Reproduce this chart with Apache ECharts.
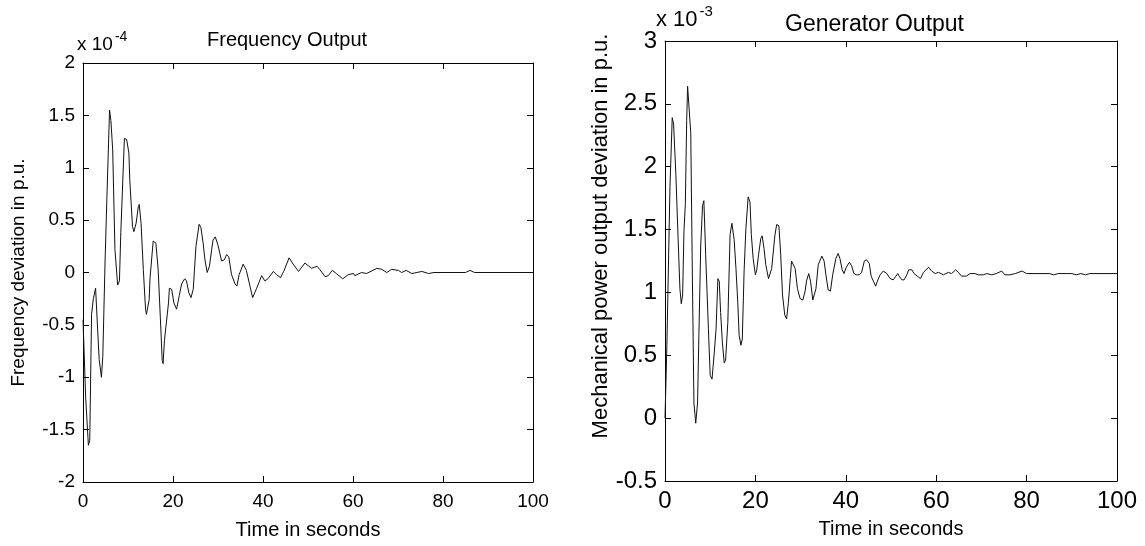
<!DOCTYPE html>
<html>
<head>
<meta charset="utf-8">
<script src="https://cdn.jsdelivr.net/npm/echarts@6/dist/echarts.min.js"></script>
<style>
  html, body { margin: 0; padding: 0; background: #fff; }
  #chart { width: 1145px; height: 546px; }
</style>
</head>
<body>
<div id="chart"></div>
<script>
// frequency deviation (x 1e-4 p.u.) vs time
const freqTime = [0, 0.6, 1.2, 1.5, 1.9, 2.3, 2.8, 3.2, 3.6, 4.1, 4.4, 4.9, 5.3, 5.9, 6.2, 6.6, 7.1, 7.7, 8.1, 8.4,
  9.2, 9.7, 10.2, 10.4, 11.0, 11.3, 11.8, 12.3, 12.5, 12.9, 13.4, 13.9, 14.1, 14.7, 14.9, 15.6, 16.2, 16.7, 17.3, 17.6,
  17.8, 18.1, 19.0, 19.2, 19.7, 20.2, 20.8, 21.4, 21.9, 22.6, 23.0, 23.5, 24.0, 24.5, 25.1, 25.8, 26.2, 26.7, 27.1, 27.6,
  28.1, 28.6, 28.9, 29.4, 30.0, 30.8, 31.4, 31.9, 32.4, 33.0, 33.8, 34.2, 34.7, 35.6, 36.3, 37.7, 38.6, 39.7, 40.4, 41.1,
  42.3, 43.0, 43.9, 44.6, 45.8, 46.7, 47.9, 49.3, 50.8, 52.0, 52.6, 53.8, 54.5, 55.4, 56.3, 57.7, 59.0, 60.1, 60.4, 61.9,
  63.0, 65.3, 66.4, 67.5, 68.6, 70.1, 70.8, 71.8, 73.1, 74.2, 75.3, 76.8, 78.0, 85.0, 86.0, 87.0, 100];
const freqDev = [-0.45, -1.2, -1.65, -1.6, -0.4, -0.25, -0.15, -0.5, -0.83, -1.0, -0.8, 0.1, 0.7, 1.55, 1.45, 1.17, 0.22, -0.12, -0.08, 0.38,
  1.28, 1.27, 1.14, 0.88, 0.44, 0.39, 0.47, 0.63, 0.65, 0.47, 0.03, -0.35, -0.4, -0.26, -0.05, 0.3, 0.28, 0.03, -0.54, -0.84,
  -0.87, -0.65, -0.29, -0.15, -0.16, -0.29, -0.35, -0.22, -0.11, -0.06, -0.08, -0.19, -0.24, -0.16, 0.25, 0.46, 0.43, 0.28, 0.12, 0.0,
  0.06, 0.22, 0.31, 0.34, 0.26, 0.11, 0.12, 0.17, 0.15, -0.02, -0.11, -0.13, -0.02, 0.08, 0.02, -0.24, -0.15, -0.03, -0.08, -0.06,
  0.01, -0.02, -0.05, 0.01, 0.14, 0.08, 0.01, 0.09, 0.04, 0.06, 0.03, -0.04, -0.03, 0.02, -0.01, -0.06, -0.02, -0.01, -0.03, 0.0,
  -0.01, 0.04, 0.03, 0.0, 0.03, 0.02, 0.0, 0.02, -0.01, 0.0, 0.01, -0.01, 0.0, 0.0, 0.02, 0.0, 0.0];

// mechanical power output deviation (x 1e-3 p.u.) vs time
const genTime = [0, 0.4, 1.1, 1.6, 1.9, 2.4, 2.9, 3.3, 3.6, 3.9, 4.2, 4.5, 4.8, 5.0, 5.2, 5.7, 6.0, 6.4, 6.8, 7.2,
  7.5, 7.9, 8.1, 8.3, 8.6, 9.0, 9.6, 10.0, 10.4, 10.9, 11.3, 11.7, 12.0, 12.3, 12.7, 13.1, 13.4, 13.9, 14.4, 14.8,
  15.3, 15.7, 16.1, 16.4, 16.8, 17.1, 17.5, 17.9, 18.4, 18.8, 19.1, 19.5, 20.0, 20.3, 20.7, 21.2, 21.5, 21.9, 22.3, 22.9,
  23.2, 23.6, 23.9, 24.3, 24.7, 25.2, 25.6, 26.0, 26.5, 26.9, 27.3, 27.7, 28.0, 28.4, 28.8, 29.3, 29.9, 30.5, 31.0, 31.3,
  31.8, 32.2, 32.7, 33.4, 33.9, 34.7, 35.2, 35.6, 36.1, 36.6, 37.1, 37.8, 38.3, 38.7, 39.2, 39.6, 40.1, 40.8, 41.3, 41.8,
  42.4, 43.0, 43.5, 44.1, 44.6, 45.2, 45.6, 46.1, 46.6, 47.1, 47.6, 48.3, 49.1, 49.8, 50.5, 51.1, 51.5, 51.8, 52.4, 52.9,
  53.5, 53.9, 54.6, 55.1, 55.8, 56.5, 57.2, 58.3, 59.0, 59.8, 60.5, 61.6, 62.7, 63.4, 64.3, 64.9, 65.6, 66.7, 67.5, 68.6,
  69.3, 70.4, 71.2, 72.3, 73.3, 74.5, 75.2, 76.3, 77.5, 79.0, 80.0, 85.0, 86.0, 87.0, 90.0, 91.0, 92.0, 93.0, 94.0, 100];
const genOut = [0, 0.55, 1.84, 2.39, 2.34, 1.94, 1.43, 1.03, 0.91, 0.98, 1.49, 1.70, 2.37, 2.64, 2.63, 2.27, 1.30, 0.12, -0.04, 0.12,
  0.66, 1.37, 1.38, 1.69, 1.73, 1.30, 0.71, 0.34, 0.31, 0.52, 0.71, 1.11, 1.09, 0.84, 0.60, 0.44, 0.46, 0.76, 1.46, 1.55,
  1.42, 1.19, 0.92, 0.66, 0.58, 0.63, 1.17, 1.51, 1.76, 1.72, 1.46, 1.27, 1.14, 1.18, 1.30, 1.43, 1.45, 1.35, 1.22, 1.11,
  1.10, 1.19, 1.20, 1.45, 1.54, 1.53, 1.30, 0.98, 0.82, 0.79, 0.92, 1.11, 1.25, 1.26, 1.19, 1.03, 0.95, 0.94, 1.01, 1.09,
  1.15, 1.09, 0.94, 1.03, 1.22, 1.29, 1.25, 1.14, 1.02, 1.01, 1.14, 1.27, 1.31, 1.27, 1.18, 1.15, 1.20, 1.24, 1.21, 1.15,
  1.14, 1.14, 1.16, 1.25, 1.26, 1.23, 1.13, 1.09, 1.05, 1.10, 1.14, 1.17, 1.15, 1.11, 1.10, 1.13, 1.15, 1.13, 1.10, 1.10,
  1.14, 1.18, 1.18, 1.15, 1.13, 1.11, 1.16, 1.20, 1.17, 1.15, 1.16, 1.14, 1.16, 1.15, 1.18, 1.16, 1.13, 1.13, 1.15, 1.15,
  1.14, 1.14, 1.15, 1.14, 1.15, 1.17, 1.14, 1.14, 1.15, 1.17, 1.15, 1.15, 1.14, 1.15, 1.15, 1.14, 1.15, 1.14, 1.15, 1.15];

const xTicks = { min: 0, max: 100, interval: 20 };
const freqTicks = { min: -2, max: 2, interval: 0.5 };
const genTicks = { min: -0.5, max: 3, interval: 0.5 };

const FONT = 'Liberation Sans, Arial, sans-serif';
const chart = echarts.init(document.getElementById('chart'));

const pairs = (xs, ys) => xs.map((x, i) => [x, ys[i]]);

// box edge with inward ticks, like a matlab axes frame
const edge = (gridIndex, position, ticks, label) => Object.assign({
  type: 'value', gridIndex, position, ...ticks,
  axisLine: { show: true, onZero: false, lineStyle: { color: '#000', width: 1 } },
  axisTick: { show: true, inside: true, length: 6, lineStyle: { color: '#000', width: 1 } },
  axisLabel: label ? Object.assign({ show: true, color: '#000', fontFamily: FONT }, label) : { show: false },
  splitLine: { show: false }
});

const nameStyle = (fontSize, padding) => ({ color: '#000', fontSize, fontFamily: FONT, padding });

const option = {
  backgroundColor: '#fff',
  animation: false,
  title: [
    { text: 'Frequency Output', left: 202, top: 25,
      textStyle: { color: '#000', fontSize: 20, fontWeight: 'normal', fontFamily: FONT } },
    { text: 'Generator Output', left: 780, top: 8,
      textStyle: { color: '#000', fontSize: 23, fontWeight: 'normal', fontFamily: FONT } }
  ],
  grid: [
    { left: 83, top: 63, width: 450, height: 419 },
    { left: 665, top: 41, width: 452, height: 440 }
  ],
  xAxis: [
    Object.assign(edge(0, 'bottom', xTicks, { fontSize: 19, margin: 10 }),
      { name: 'Time in seconds', nameLocation: 'middle', nameGap: 38, nameTextStyle: nameStyle(20, 0) }),
    edge(0, 'top', xTicks, null),
    Object.assign(edge(1, 'bottom', xTicks, { fontSize: 24, margin: 8 }),
      { name: 'Time in seconds', nameLocation: 'middle', nameGap: 38, nameTextStyle: nameStyle(20, 0) }),
    edge(1, 'top', xTicks, null)
  ],
  yAxis: [
    Object.assign(edge(0, 'left', freqTicks, { fontSize: 19, margin: 8 }),
      { name: 'Frequency deviation in p.u.', nameLocation: 'middle', nameGap: 55, nameTextStyle: nameStyle(19, 0) }),
    edge(0, 'right', freqTicks, null),
    Object.assign(edge(1, 'left', genTicks, { fontSize: 24, margin: 8 }),
      { name: 'Mechanical power output deviation in p.u.', nameLocation: 'middle', nameGap: 46,
        nameTextStyle: nameStyle(22, [0, 0, 0, 50]) }),
    edge(1, 'right', genTicks, null)
  ],
  graphic: [
    { type: 'text', left: 77, top: 30,
      style: { text: '{a|x 10}{b|-4}', rich: {
        a: { fontSize: 19, fontFamily: FONT, fill: '#000', padding: [8, 0, 0, 0] },
        b: { fontSize: 14, fontFamily: FONT, fill: '#000', padding: [0, 0, 8, 2] } } } },
    { type: 'text', left: 656, top: 4,
      style: { text: '{a|x 10}{b|-3}', rich: {
        a: { fontSize: 22, fontFamily: FONT, fill: '#000', padding: [8, 0, 0, 0] },
        b: { fontSize: 15, fontFamily: FONT, fill: '#000', padding: [0, 0, 8, 2] } } } }
  ],
  series: [
    { type: 'line', xAxisIndex: 0, yAxisIndex: 0, data: pairs(freqTime, freqDev),
      showSymbol: false, lineStyle: { color: '#111', width: 1 } },
    { type: 'line', xAxisIndex: 2, yAxisIndex: 2, data: pairs(genTime, genOut),
      showSymbol: false, lineStyle: { color: '#111', width: 1 } }
  ]
};

chart.setOption(option);
</script>
</body>
</html>
